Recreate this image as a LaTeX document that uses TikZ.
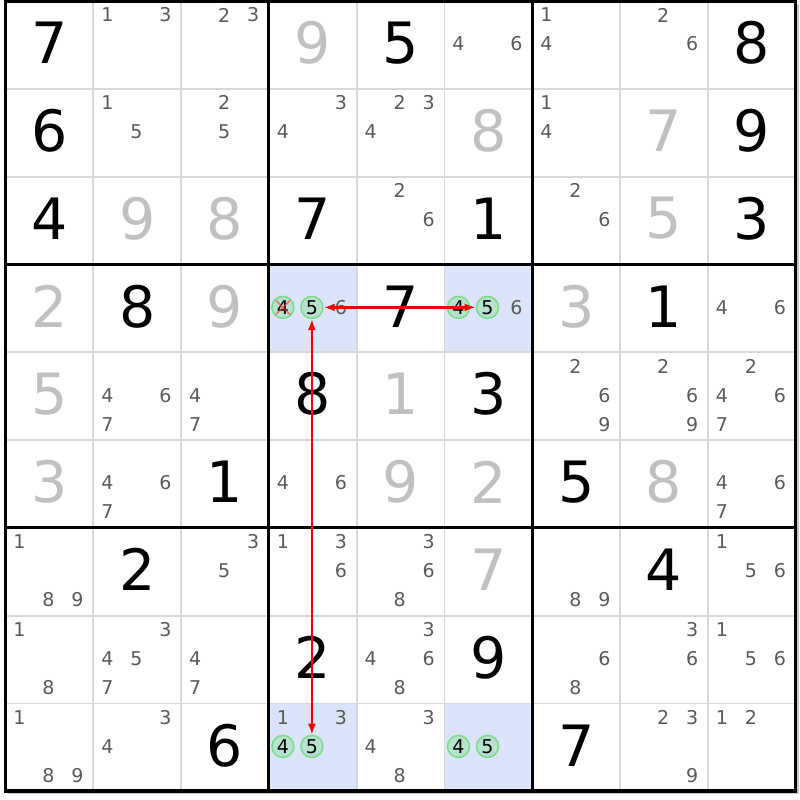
\documentclass[tikz,border=0pt]{standalone}
\usepackage{fontspec}
\setmainfont{DejaVu Sans}
\usetikzlibrary{arrows.meta}
\definecolor{candgray}{RGB}{90,90,90}
\definecolor{solvedgray}{RGB}{192,192,192}
\definecolor{linegray}{RGB}{216,216,216}
\definecolor{cellblue}{RGB}{220,228,250}
\definecolor{ringgreen}{RGB}{128,218,140}
\definecolor{ringfill}{RGB}{184,226,208}
\definecolor{linkred}{RGB}{240,0,0}

\begin{document}
\begin{tikzpicture}[x=1pt,y=-1pt]
   \tikzstyle{given}=[inner sep=0pt, font=\fontsize{57}{60}\selectfont]
   \tikzstyle{solved}=[given, text=solvedgray]
   \tikzstyle{cand}=[inner sep=0pt, text=candgray, font=\fontsize{19}{20}\selectfont]
   \tikzstyle{ring}=[cand, circle, draw=ringgreen, line width=1.6pt, fill=ringfill, text=black, minimum size=22pt]
   \tikzstyle{link}=[draw=linkred, line width=1.8pt, >={Latex[length=11pt,width=8pt]}, <->]
   \def\s{87.8}

\useasboundingbox (0,0) rectangle (800,800);
\fill[white] (0,0) rectangle (800,800);

\foreach \r/\c in {4/4,4/6,9/4,9/6}
    \fill[cellblue] ({5.5+(\c-1)*\s},{1+(\r-1)*\s}) rectangle ++(\s,\s);

\foreach \k in {1,...,8} {
    \draw[linegray, line width=1.8pt] ({5.5+\k*\s},1) -- ++(0,9*\s);
    \draw[linegray, line width=1.8pt] (5.5,{1+\k*\s}) -- ++(9*\s,0);
}
\draw[gray!45, line width=1.5pt] (8,793) -- (798,793) -- (798,4);
\foreach \k in {3,6} {
    \draw[line width=3pt] ({5.5+\k*\s},1) -- ++(0,9*\s);
    \draw[line width=3pt] (5.5,{1+\k*\s}) -- ++(9*\s,0);
}
\draw[line width=3.5pt] (5.5,1) rectangle ++(9*\s,9*\s);

\foreach \r/\c/\d in {1/1/7, 1/5/5, 1/9/8, 2/1/6, 2/9/9, 3/1/4, 3/4/7, 3/6/1, 3/9/3,
    4/2/8, 4/5/7, 4/8/1, 5/4/8, 5/6/3, 6/3/1, 6/7/5,
    7/2/2, 7/8/4, 8/4/2, 8/6/9, 9/3/6, 9/7/7}
    \node[given] (g\r\c) at ({5.5+(\c-0.5)*\s},{(\r-0.5)*\s-1}) {\d};

\foreach \r/\c/\d in {1/4/9, 2/6/8, 2/8/7, 3/2/9, 3/3/8, 3/8/5, 4/1/2, 4/3/9, 4/7/3,
    5/1/5, 5/5/1, 6/1/3, 6/5/9, 6/6/2, 6/8/8, 7/6/7}
    \node[solved] (g\r\c) at ({5.5+(\c-0.5)*\s},{(\r-0.5)*\s-1}) {\d};

\foreach \r/\c/\ds in {1/2/{1,3}, 1/3/{2,3}, 1/6/{4,6}, 1/7/{1,4}, 1/8/{2,6},
    2/2/{1,5}, 2/3/{2,5}, 2/4/{3,4}, 2/5/{2,3,4}, 2/7/{1,4},
    3/5/{2,6}, 3/7/{2,6},
    4/4/{6}, 4/6/{6}, 4/9/{4,6},
    5/2/{4,6,7}, 5/3/{4,7}, 5/7/{2,6,9}, 5/8/{2,6,9}, 5/9/{2,4,6,7},
    6/2/{4,6,7}, 6/4/{4,6}, 6/9/{4,6,7},
    7/1/{1,8,9}, 7/3/{3,5}, 7/4/{1,3,6}, 7/5/{3,6,8}, 7/7/{8,9}, 7/9/{1,5,6},
    8/1/{1,8}, 8/2/{3,4,5,7}, 8/3/{4,7}, 8/5/{3,4,6,8}, 8/7/{6,8}, 8/8/{3,6}, 8/9/{1,5,6},
    9/1/{1,8,9}, 9/2/{3,4}, 9/4/{1,3}, 9/5/{3,4,8}, 9/8/{2,3,9}, 9/9/{1,2}} {
    \foreach \d in \ds {
        \pgfmathtruncatemacro\cx{mod(\d-1,3)}
        \pgfmathtruncatemacro\cy{(\d-1)/3}
        \node[cand] (p\r\c\d) at ({5.5+(\c-1)*\s+14+29*\cx},{1+(\r-1)*\s+14+29*\cy}) {\d};
    }
}

\foreach \r/\c in {4/4,4/6,9/4,9/6} {
    \node[ring] (p\r\c4) at ({5.5+(\c-1)*\s+14},{1+(\r-1)*\s+43}) {4};
    \node[ring] (p\r\c5) at ({5.5+(\c-1)*\s+43},{1+(\r-1)*\s+43}) {5};
}

\draw[red!80!white, opacity=0.7, line width=1.4pt] ([shift={(-7,-7)}]p444.center) -- ([shift={(7,7)}]p444.center)
    ([shift={(-7,7)}]p444.center) -- ([shift={(7,-7)}]p444.center);

\draw[link, line width=2.2pt] (p465) -- (p445);
\draw[link] (p445) -- (p945);

\end{tikzpicture}
\end{document}
